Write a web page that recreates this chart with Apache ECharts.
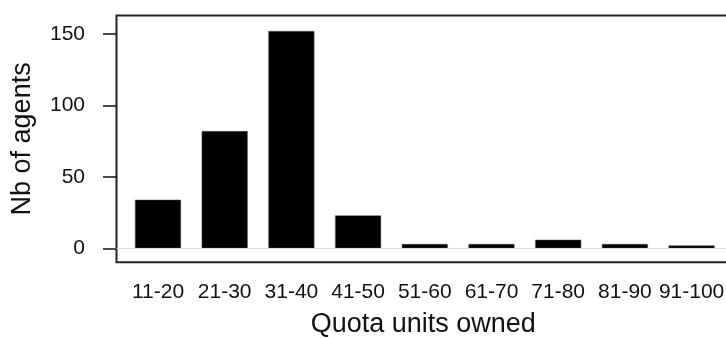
<!DOCTYPE html>
<html>
<head>
<meta charset="utf-8">
<script src="https://cdn.jsdelivr.net/npm/echarts@6/dist/echarts.min.js"></script>
<style>
html,body{margin:0;padding:0;background:#fff;}
#chart{width:726px;height:338px;}
</style>
</head>
<body>
<div id="chart"></div>
<script>
var categories = ['11-20','21-30','31-40','41-50','51-60','61-70','71-80','81-90','91-100'];
var agents = [34, 82, 152, 23, 3, 3, 6, 3, 2];
var yTicks = [0, 50, 100, 150];
var xTitle = 'Quota units owned';
var yTitle = 'Nb of agents';

var barData = categories.map(function (c, i) { return [i, agents[i]]; });
var catIdx = categories.map(function (c, i) { return i; });
var FONT = 'Liberation Sans, Arial, sans-serif';

var chart = echarts.init(document.getElementById('chart'), null, {renderer: 'canvas'});
chart.setOption({
  animation: false,
  backgroundColor: '#fff',
  grid: {
    left: 116.5, top: 15.5, right: -4, bottom: 75.7,
    outerBoundsMode: 'none', containLabel: false,
    show: true, borderColor: '#222', borderWidth: 2, backgroundColor: 'transparent'
  },
  xAxis: {
    type: 'value', min: -0.622, max: 8.576,
    axisLine: {show: false, onZero: false},
    axisTick: {show: false},
    splitLine: {show: false},
    axisLabel: {
      customValues: catIdx,
      formatter: function (v) { return categories[Math.round(v)]; },
      fontFamily: FONT, fontSize: 21, color: '#111', margin: 19
    },
    name: xTitle, nameLocation: 'middle', nameGap: 49,
    nameTextStyle: {fontFamily: FONT, fontSize: 27, color: '#111'}
  },
  yAxis: {
    type: 'value', min: -9.8, max: 162.9,
    axisLine: {show: false, onZero: false},
    axisTick: {show: true, customValues: yTicks, length: 13.5, lineStyle: {color: '#111', width: 1.5}},
    splitLine: {show: false},
    axisLabel: {
      customValues: yTicks,
      fontFamily: FONT, fontSize: 21, color: '#111', margin: 31.5
    },
    name: yTitle, nameLocation: 'middle', nameGap: 80.5, nameRotate: 90,
    nameTextStyle: {fontFamily: FONT, fontSize: 27, color: '#111'}
  },
  series: [{
    type: 'bar',
    data: barData,
    barWidth: 46,
    itemStyle: {color: '#000', borderColor: '#555', borderWidth: 0.5},
    markLine: {
      silent: true,
      symbol: 'none',
      label: {show: false},
      lineStyle: {color: '#dcdcdc', width: 1, type: 'solid'},
      data: [{yAxis: 0}]
    }
  }]
});
</script>
</body>
</html>
